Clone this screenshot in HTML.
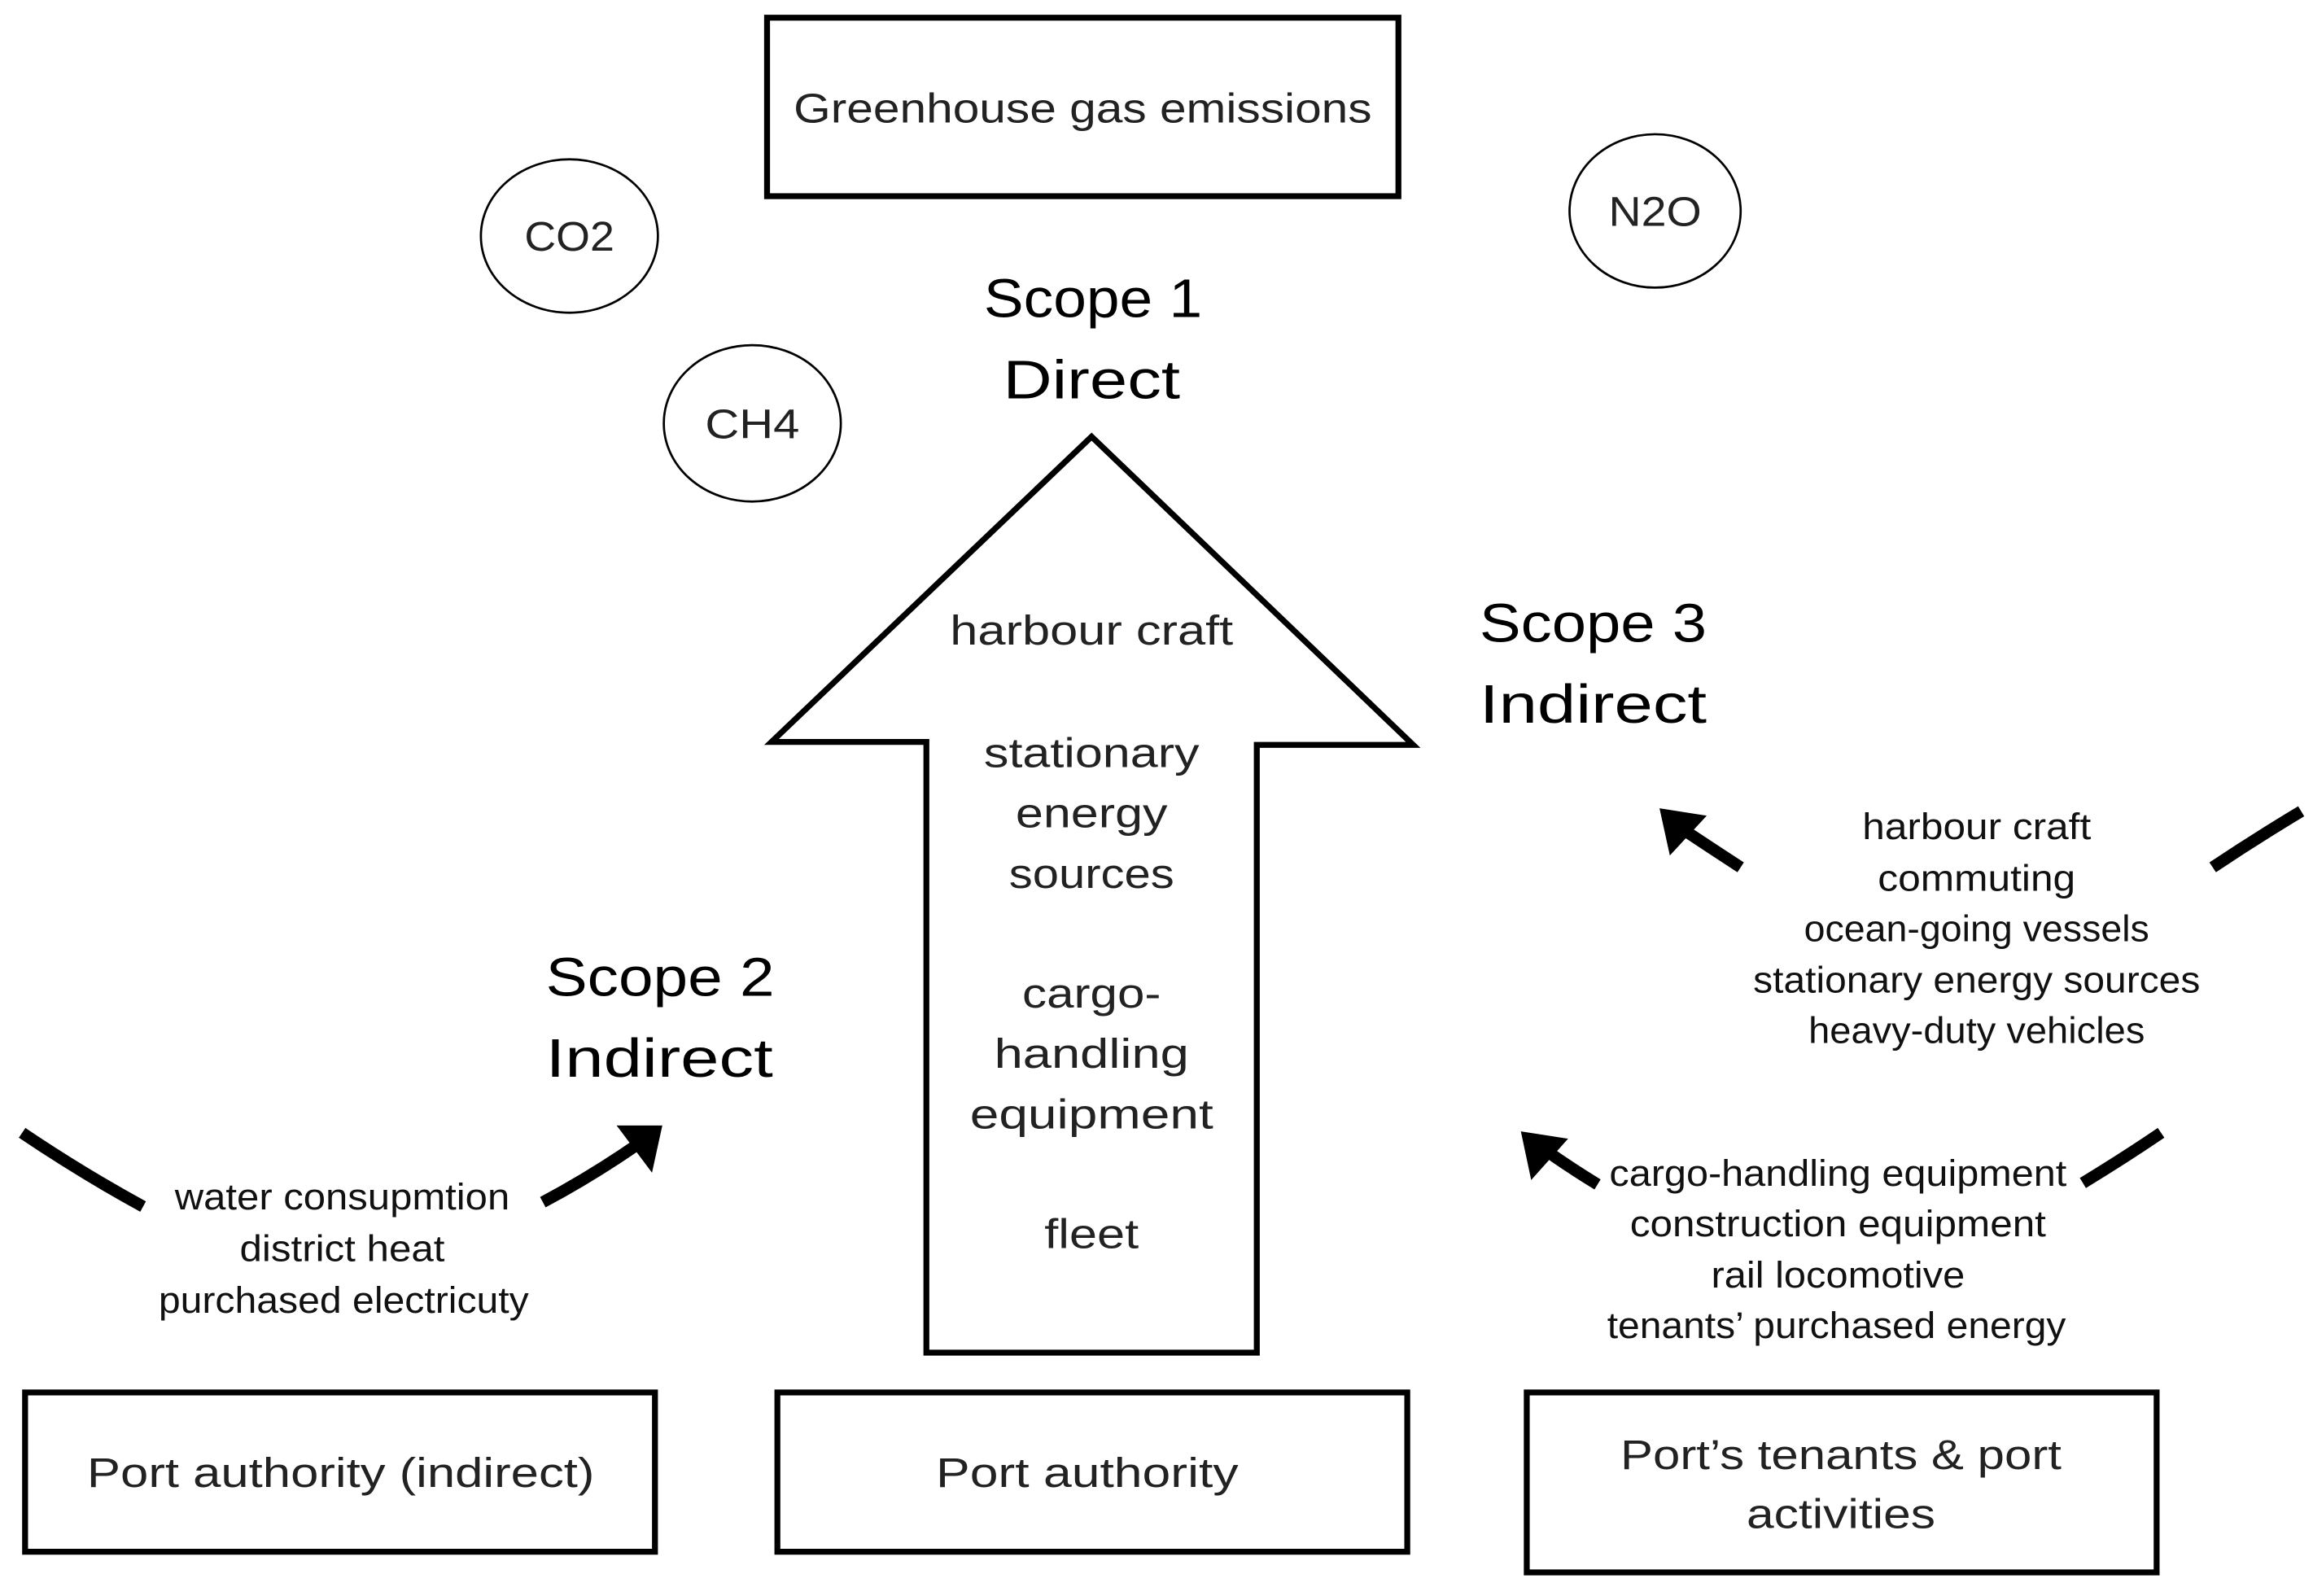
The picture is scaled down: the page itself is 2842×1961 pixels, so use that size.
<!DOCTYPE html>
<html><head><meta charset="utf-8"><style>html,body{margin:0;padding:0;background:#fff}svg{display:block}</style></head>
<body>
<svg width="2842" height="1961" viewBox="0 0 1568 1082" preserveAspectRatio="none" xmlns="http://www.w3.org/2000/svg" font-family="Liberation Sans, sans-serif" fill="#222">
<g fill="none" stroke="#000">
<rect x="520" y="12" width="428" height="121" stroke-width="4"/>
<ellipse cx="386" cy="160" rx="60" ry="52" stroke-width="1.5"/>
<ellipse cx="1122" cy="143" rx="58" ry="52" stroke-width="1.5"/>
<ellipse cx="510" cy="287" rx="60" ry="53" stroke-width="1.5"/>
<polygon points="740,296 523,503 628,503 628,917 852,917 852,505 958,505" stroke-width="4" stroke-linejoin="miter"/>
<rect x="17" y="944" width="427" height="108" stroke-width="4"/>
<rect x="527" y="944" width="427" height="108" stroke-width="4"/>
<rect x="1035" y="944" width="427" height="122" stroke-width="4"/>
<path d="M15,768 Q55,795 97,818" stroke-width="8"/>
<path d="M368,815 Q400,798 432,776" stroke-width="8"/>
<path d="M1180,588 Q1160,575 1142,563" stroke-width="8"/>
<path d="M1083,803 Q1065,792 1048,780" stroke-width="8"/>
<path d="M1500,588 Q1530,568 1560,550" stroke-width="8"/>
<path d="M1412,802 Q1440,785 1465,768" stroke-width="8"/>
</g>
<g fill="#000">
<polygon points="418,763 449,763 442,795"/>
<polygon points="1125,548 1157,553 1132,580"/>
<polygon points="1031,767 1063,772 1038,800"/>
</g>
<g text-anchor="middle" font-size="28" lengthAdjust="spacingAndGlyphs">
<text x="734" y="83" textLength="392" lengthAdjust="spacingAndGlyphs">Greenhouse gas emissions</text>
<text x="386" y="170" textLength="61" lengthAdjust="spacingAndGlyphs">CO2</text>
<text x="1122" y="153" textLength="63" lengthAdjust="spacingAndGlyphs">N2O</text>
<text x="510" y="297" textLength="64" lengthAdjust="spacingAndGlyphs">CH4</text>
<text x="740" y="437" textLength="192" lengthAdjust="spacingAndGlyphs">harbour craft</text>
<text x="740" y="520" textLength="146" lengthAdjust="spacingAndGlyphs">stationary</text>
<text x="740" y="561" textLength="103" lengthAdjust="spacingAndGlyphs">energy</text>
<text x="740" y="602" textLength="112" lengthAdjust="spacingAndGlyphs">sources</text>
<text x="740" y="683" textLength="94" lengthAdjust="spacingAndGlyphs">cargo-</text>
<text x="740" y="724" textLength="132" lengthAdjust="spacingAndGlyphs">handling</text>
<text x="740" y="765" textLength="165" lengthAdjust="spacingAndGlyphs">equipment</text>
<text x="740" y="846" textLength="64" lengthAdjust="spacingAndGlyphs">fleet</text>
<text x="231" y="1008" textLength="344" lengthAdjust="spacingAndGlyphs">Port authority (indirect)</text>
<text x="737" y="1008" textLength="205" lengthAdjust="spacingAndGlyphs">Port authority</text>
<text x="1248" y="996" textLength="299" lengthAdjust="spacingAndGlyphs">Port’s tenants &amp; port</text>
<text x="1248" y="1036" textLength="128" lengthAdjust="spacingAndGlyphs">activities</text>
</g>
<g font-size="37" fill="#000">
<text x="741" y="215" text-anchor="middle" textLength="148" lengthAdjust="spacingAndGlyphs">Scope 1</text>
<text x="740" y="270" text-anchor="middle" textLength="120" lengthAdjust="spacingAndGlyphs">Direct</text>
<text x="1003" y="435" textLength="154" lengthAdjust="spacingAndGlyphs">Scope 3</text>
<text x="1003" y="490" textLength="154" lengthAdjust="spacingAndGlyphs">Indirect</text>
<text x="370" y="675" textLength="155" lengthAdjust="spacingAndGlyphs">Scope 2</text>
<text x="370" y="730" textLength="154" lengthAdjust="spacingAndGlyphs">Indirect</text>
</g>
<g text-anchor="middle" font-size="25" fill="#111">
<text x="232" y="820" textLength="227" lengthAdjust="spacingAndGlyphs">water consupmtion</text>
<text x="232" y="855" textLength="139" lengthAdjust="spacingAndGlyphs">district heat</text>
<text x="233" y="890" textLength="251" lengthAdjust="spacingAndGlyphs">purchased electricuty</text>
<text x="1340" y="569" textLength="155" lengthAdjust="spacingAndGlyphs">harbour craft</text>
<text x="1340" y="604" textLength="134" lengthAdjust="spacingAndGlyphs">commuting</text>
<text x="1340" y="638" textLength="234" lengthAdjust="spacingAndGlyphs">ocean-going vessels</text>
<text x="1340" y="673" textLength="303" lengthAdjust="spacingAndGlyphs">stationary energy sources</text>
<text x="1340" y="707" textLength="228" lengthAdjust="spacingAndGlyphs">heavy-duty vehicles</text>
<text x="1246" y="804" textLength="310" lengthAdjust="spacingAndGlyphs">cargo-handling equipment</text>
<text x="1246" y="838" textLength="282" lengthAdjust="spacingAndGlyphs">construction equipment</text>
<text x="1246" y="873" textLength="172" lengthAdjust="spacingAndGlyphs">rail locomotive</text>
<text x="1245" y="907" textLength="311" lengthAdjust="spacingAndGlyphs">tenants’ purchased energy</text>
</g>
</svg>
</body></html>
